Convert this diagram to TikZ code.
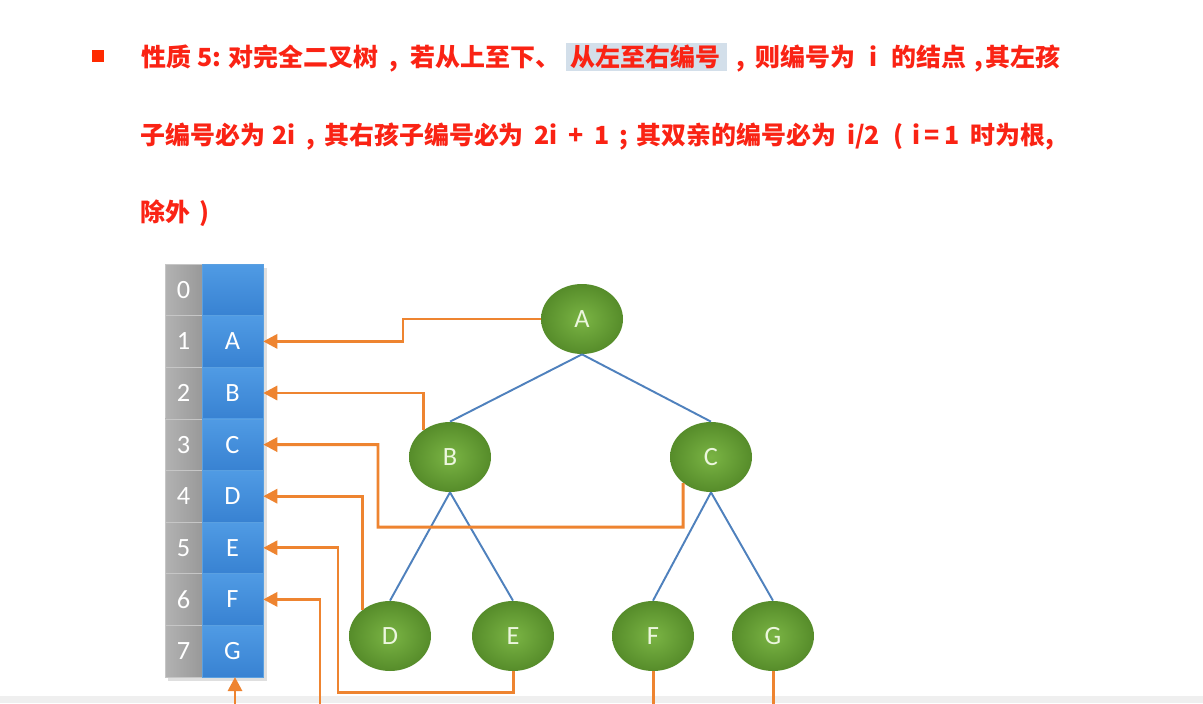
\documentclass[tikz,border=0pt]{standalone}
\usepackage{fontspec}
\newfontfamily\cjk{Noto Sans CJK SC}
\newfontfamily\calf{Carlito}
\usetikzlibrary{arrows.meta,shapes.geometric,calc}
\definecolor{redtxt}{HTML}{FA2314}
\definecolor{bulletred}{HTML}{FF2A00}
\definecolor{hlblue}{HTML}{D3DFEA}
\definecolor{orangeline}{HTML}{EE8430}
\definecolor{bluelink}{HTML}{4F81BD}
\definecolor{bandgray}{HTML}{EFEFEF}
\begin{document}
\begin{tikzpicture}[x=0.02cm,y=-0.02cm,
  txt/.style={anchor=base west,inner sep=0,text=redtxt,font=\cjk\bfseries\fontsize{14.2}{16}\selectfont},
  gcell/.style={minimum width=0.74cm,minimum height=1.032cm,inner sep=0,left color=gray!60,right color=gray!80,draw=gray!45,line width=0.3pt,text=white,font=\calf\fontsize{15}{17}\selectfont},
  bcell/.style={minimum width=1.22cm,minimum height=1.032cm,inner sep=0,top color={rgb,255:red,80;green,155;blue,228},bottom color={rgb,255:red,56;green,130;blue,210},draw={rgb,255:red,90;green,160;blue,225},line width=0.3pt,text=white,font=\calf\fontsize{15}{17}\selectfont},
  tnode/.style={ellipse,minimum width=1.64cm,minimum height=1.40cm,inner sep=0,shading=radial,inner color={rgb,255:red,122;green,180;blue,68},outer color={rgb,255:red,86;green,140;blue,42},text={rgb,255:red,236;green,246;blue,222},font=\calf\fontsize{15}{17}\selectfont},
  tedge/.style={draw=bluelink,line width=1.1pt},
  conn/.style={draw=orangeline,line width=1.7pt},
  arr/.style={conn,-{Triangle[length=8pt,width=8pt]}}]
\useasboundingbox (0,0) rectangle (1203,703);
\clip (0,0) rectangle (1203,703);
\fill[white] (0,0) rectangle (1203,703);
\fill[bandgray] (0,696) rectangle (1203,703);

% heading text
\node[fill=bulletred,minimum size=0.24cm,inner sep=0] (bullet) at (98,56) {};
\fill[hlblue] (566,43) rectangle (727,71);
\node[txt] (l1a) at (141,66) {性质};
\node[txt] (l1b) at (197,66) {5:};
\node[txt] (l1c) at (228,66) {对完全二叉树};
\node[txt] (l1d) at (389,66) {,};
\node[txt] (l1e) at (410,66) {若从上至下、};
\node[txt] (l1f) at (570,66) {从左至右编号};
\node[txt] (l1g) at (736,66) {,};
\node[txt] (l1h) at (755,66) {则编号为};
\node[txt] (l1i) at (869,66) {i};
\node[txt] (l1j) at (891,66) {的结点};
\node[txt] (l1k) at (974,66) {,};
\node[txt] (l1l) at (985,66) {其左孩};

\node[txt] (l2a) at (140,144) {子编号必为};
\node[txt] (l2b) at (272,144) {2i};
\node[txt] (l2c) at (306,144) {,};
\node[txt] (l2d) at (324,144) {其右孩子编号必为};
\node[txt] (l2e) at (534,144) {2i};
\node[txt] (l2f) at (568,144) {+};
\node[txt] (l2g) at (594,144) {1};
\node[txt] (l2h) at (619,144) {;};
\node[txt] (l2i) at (636,144) {其双亲的编号必为};
\node[txt] (l2j) at (847,144) {i/2};
\node[txt] (l2k) at (893,144) {(};
\node[txt] (l2l) at (912,144) {i};
\node[txt] (l2m) at (924,144) {=};
\node[txt] (l2n) at (944,144) {1};
\node[txt] (l2o) at (970,144) {时为根,};

\node[txt] (l3a) at (140,221) {除外};
\node[txt] (l3b) at (199,221) {)};

% array
\fill[gray!25] (168,268) rectangle (267,681);
\foreach \i/\l in {0/,1/A,2/B,3/C,4/D,5/E,6/F,7/G}{
  \node[gcell] (n\i) at (183.5,{289.8+51.6*\i}) {\i};
  \node[bcell] (v\i) at (232.5,{289.8+51.6*\i}) {\l};
}

% tree nodes
\node[tnode] (A) at (582,319) {A};
\node[tnode] (B) at (450,457) {B};
\node[tnode] (C) at (711,457) {C};
\node[tnode] (D) at (390,636) {D};
\node[tnode] (E) at (513,636) {E};
\node[tnode] (F) at (653,636) {F};
\node[tnode] (G) at (773,636) {G};

% tree edges
\draw[tedge] (A.south) -- (B.north);
\draw[tedge] (A.south) -- (C.north);
\draw[tedge] (B.south) -- (D.north);
\draw[tedge] (B.south) -- (E.north);
\draw[tedge] (C.south) -- (F.north);
\draw[tedge] (C.south) -- (G.north);

% connectors to array
\coordinate (a1) at (403,319);
\draw[arr] (A.west) -- (a1) |- (v1.east);
\draw[arr] (B.135) |- (v2.east);
\coordinate (c1) at (683,527);
\coordinate (c2) at (378,527);
\draw[arr] (C.223) -- (c1) -- (c2) |- (v3.east);
\draw[arr] (D.137) |- (v4.east);
\coordinate (e1) at (513,692);
\coordinate (e2) at (338,692);
\draw[arr] (E.south) -- (e1) -- (e2) |- (v5.east);
\coordinate (f1) at (653,740);
\coordinate (f2) at (320,740);
\draw[arr] (F.south) -- (f1) -- (f2) |- (v6.east);
\coordinate (g1) at (773,760);
\coordinate (g2) at (235,760);
\draw[arr] (G.south) -- (g1) -- (g2) -- (v7.south -| g2);
\end{tikzpicture}
\end{document}
